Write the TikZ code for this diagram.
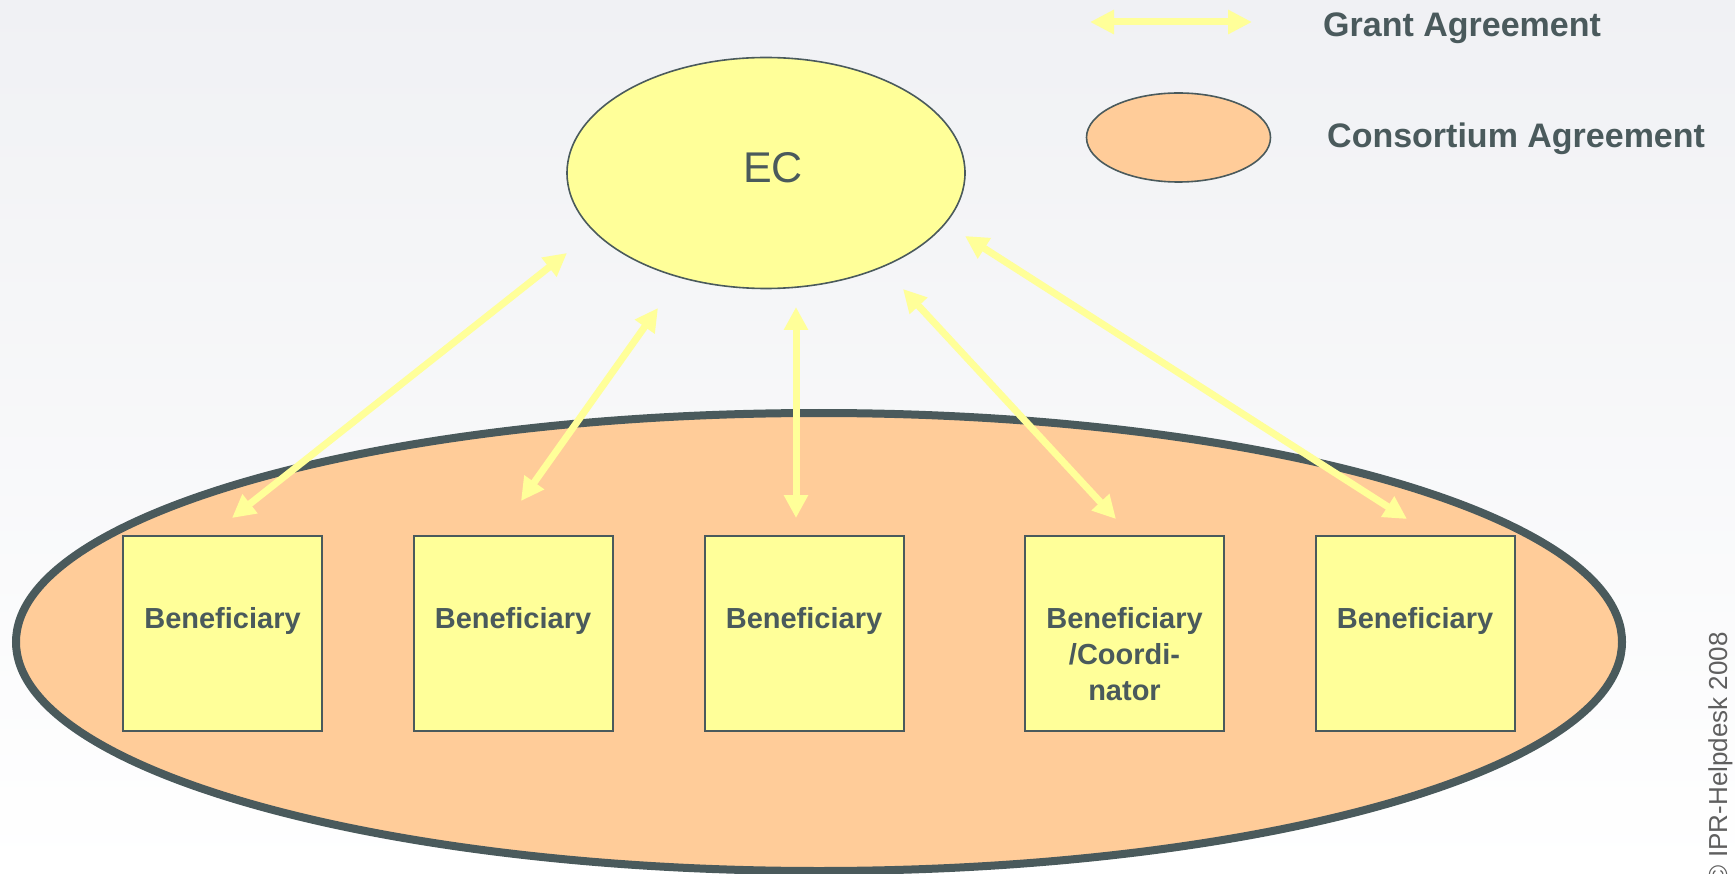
\documentclass[tikz,border=0pt]{standalone}
\usepackage{fontspec}
\setmainfont{Liberation Sans}
\usetikzlibrary{shapes.geometric,arrows.meta}

\definecolor{ink}{RGB}{74,90,92}
\definecolor{paleyellow}{RGB}{255,255,153}
\definecolor{peach}{RGB}{255,204,153}
\definecolor{bgtop}{RGB}{240,241,244}
\definecolor{bgmid}{RGB}{247,248,249}
\definecolor{notegray}{RGB}{95,95,95}

\begin{document}
\begin{tikzpicture}[x=1pt,y=-1pt,
  consortium/.style={ellipse, draw=ink, line width=8pt, fill=peach, inner sep=0pt,
    minimum width=1606pt, minimum height=458pt},
  ecnode/.style={ellipse, draw=ink, line width=1.6pt, fill=paleyellow, inner sep=0pt,
    minimum width=398pt, minimum height=231pt},
  legendoval/.style={ellipse, draw=ink, line width=1.6pt, fill=peach, inner sep=0pt,
    minimum width=184pt, minimum height=89pt},
  benefbox/.style={rectangle, draw=ink, line width=2pt, fill=paleyellow, inner sep=0pt,
    minimum width=199pt, minimum height=195pt},
  benefname/.style={anchor=north, align=center, inner sep=0pt, text=ink,
    font=\bfseries\fontsize{29}{36}\selectfont},
  legendtext/.style={anchor=base west, inner sep=0pt, text=ink,
    font=\bfseries\fontsize{34}{40}\selectfont},
  grant/.style={draw=paleyellow, line width=7pt,
    {Triangle[width=23pt,length=23pt]}-{Triangle[width=23pt,length=23pt]}}
]
\useasboundingbox (0,0) rectangle (1735,874);

% backdrop
\shade[top color=bgtop, middle color=bgmid, bottom color=white] (0,0) rectangle (1735,874);

% consortium oval with the beneficiaries
\node[consortium] (cons) at (819,642) {};

\node[benefbox] (b1) at (222.5,633.5) {};
\node[benefbox] (b2) at (513,633.5) {};
\node[benefbox] (b3) at (804,633.5) {};
\node[benefbox] (b4) at (1124.5,633.5) {};
\node[benefbox] (b5) at (1415,633.5) {};

\node[benefname] (t1) at (222.5,607) {Beneficiary};
\node[benefname] (t2) at (513,607) {Beneficiary};
\node[benefname] (t3) at (804,607) {Beneficiary};
\node[benefname] (t4) at (1124.5,607) {Beneficiary\\/Coordi-\\nator};
\node[benefname] (t5) at (1415,607) {Beneficiary};

% European Commission
\node[ecnode] (ec) at (766,173) {};
\node[anchor=base, inner sep=0pt, text=ink, font=\fontsize{43}{50}\selectfont] (ectext) at (773,182.5) {EC};

% grant agreements between EC and each beneficiary
\coordinate (g1b) at (232,518);  \coordinate (g1t) at (567,253);
\coordinate (g2b) at (521,501);  \coordinate (g2t) at (658,308);
\coordinate (g3b) at (796,518);  \coordinate (g3t) at (796,307);
\coordinate (g4b) at (1116,519); \coordinate (g4t) at (903,289);
\coordinate (g5b) at (1407,519); \coordinate (g5t) at (965,236);

\draw[grant] (g1b) -- (g1t);
\draw[grant] (g2b) -- (g2t);
\draw[grant] (g3b) -- (g3t);
\draw[grant] (g4b) -- (g4t);
\draw[grant] (g5b) -- (g5t);

% legend
\coordinate (lgl) at (1090,22);
\coordinate (lgr) at (1252,22);
\draw[grant, {Triangle[width=23pt,length=24pt]}-{Triangle[width=23pt,length=24pt]}] (lgl) -- (lgr);
\node[legendtext] (lgtext) at (1323,36.5) {Grant Agreement};

\node[legendoval] (lgoval) at (1178.5,137.5) {};
\node[legendtext] (lctext) at (1327,148) {Consortium Agreement};

% copyright note along the right edge
\node[rotate=90, anchor=base east, inner sep=0pt, text=notegray,
  font=\fontsize{26}{30}\selectfont] (copy) at (1727,632) {© IPR-Helpdesk 2008};
\end{tikzpicture}
\end{document}
